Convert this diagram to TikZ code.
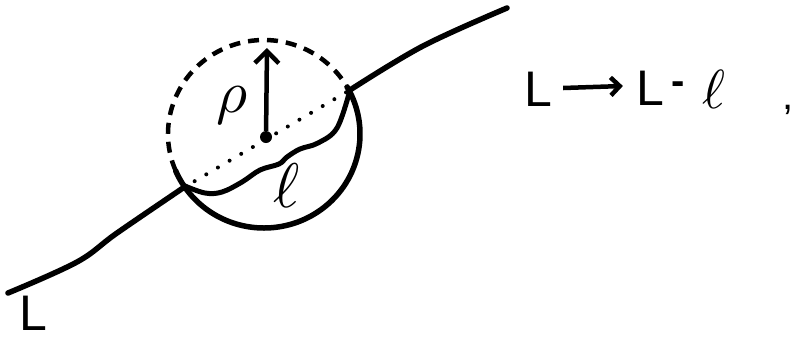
\documentclass[tikz,border=0pt]{standalone}
\usepackage{fontspec}
\usepackage{graphicx}
\setsansfont{Liberation Sans}
\usetikzlibrary{arrows.meta,calc}
\begin{document}
\begin{tikzpicture}[x=1pt,y=-1pt,
  ink/.style={line width=5.5pt,line cap=round,line join=round},
  lbl/.style={inner sep=0pt,font=\sffamily\fontsize{50}{50}\selectfont},
  mth/.style={inner sep=0pt}]
\useasboundingbox (0,0) rectangle (794,341);
% main line L
\coordinate (a0) at (8,293);
\coordinate (aL) at (183,188);
\coordinate (aR) at (350,90);
\coordinate (a1) at (507,8);
\draw[ink] plot[smooth,tension=0.6] coordinates {(a0) (77,262) (117,233) (aL)};
\draw[ink] plot[smooth,tension=0.6] coordinates {(aR) (423,46) (a1)};
\draw[line width=4pt,line cap=round,dash pattern=on 0pt off 13.5pt] (aL) -- (aR);
% ball
\coordinate (c) at (264,134);
\draw[ink] (c) ++(-30:96 and 94) arc[start angle=-30,end angle=157,x radius=96,y radius=94];
\draw[line width=4.5pt,dash pattern=on 11pt off 8pt] (c) ++(157:96 and 94) arc[start angle=157,end angle=330,x radius=96,y radius=94];
% wavy cut
\draw[line width=5pt,line cap=round,line join=round] plot[smooth,tension=0.6] coordinates {(185,186) (205,193) (222,192) (242,182) (260,170) (279,164) (287,157) (300,149) (318,143) (337,128) (aR)};
% center and radius arrow
\node[circle,fill,inner sep=0pt,minimum size=12pt] (dot) at (266,137) {};
\coordinate (top) at (267,48);
\draw[line width=4.5pt,-{Straight Barb[length=12pt,width=24pt,line width=4.5pt]}] (dot) -- (top);
\node[mth] (rho) at (232,105) {\scalebox{6}{$\rho$}};
\node[mth] (ellin) at (287,186) {\scalebox{6.3}{$\ell$}};
% labels
\node[lbl] (Lb) at (33,313) {L};
\node[lbl] (L1) at (538,89) {L};
\node[lbl] (L2) at (650,88) {L};
\node[lbl,font=\sffamily\bfseries\fontsize{40}{40}\selectfont] (mn) at (678,88) {-};
\node[mth] (ell2) at (714,89) {\scalebox{5.5}{$\ell$}};
\node[lbl,font=\sffamily\fontsize{40}{40}\selectfont] (cm) at (788,110) {,};
\draw[line width=4.5pt,-{Straight Barb[length=9pt,width=18pt,line width=4.5pt]}] ($(L1.east)+(11pt,1pt)$) -- ($(L2.west)+(-13pt,2pt)$);
\end{tikzpicture}
\end{document}
